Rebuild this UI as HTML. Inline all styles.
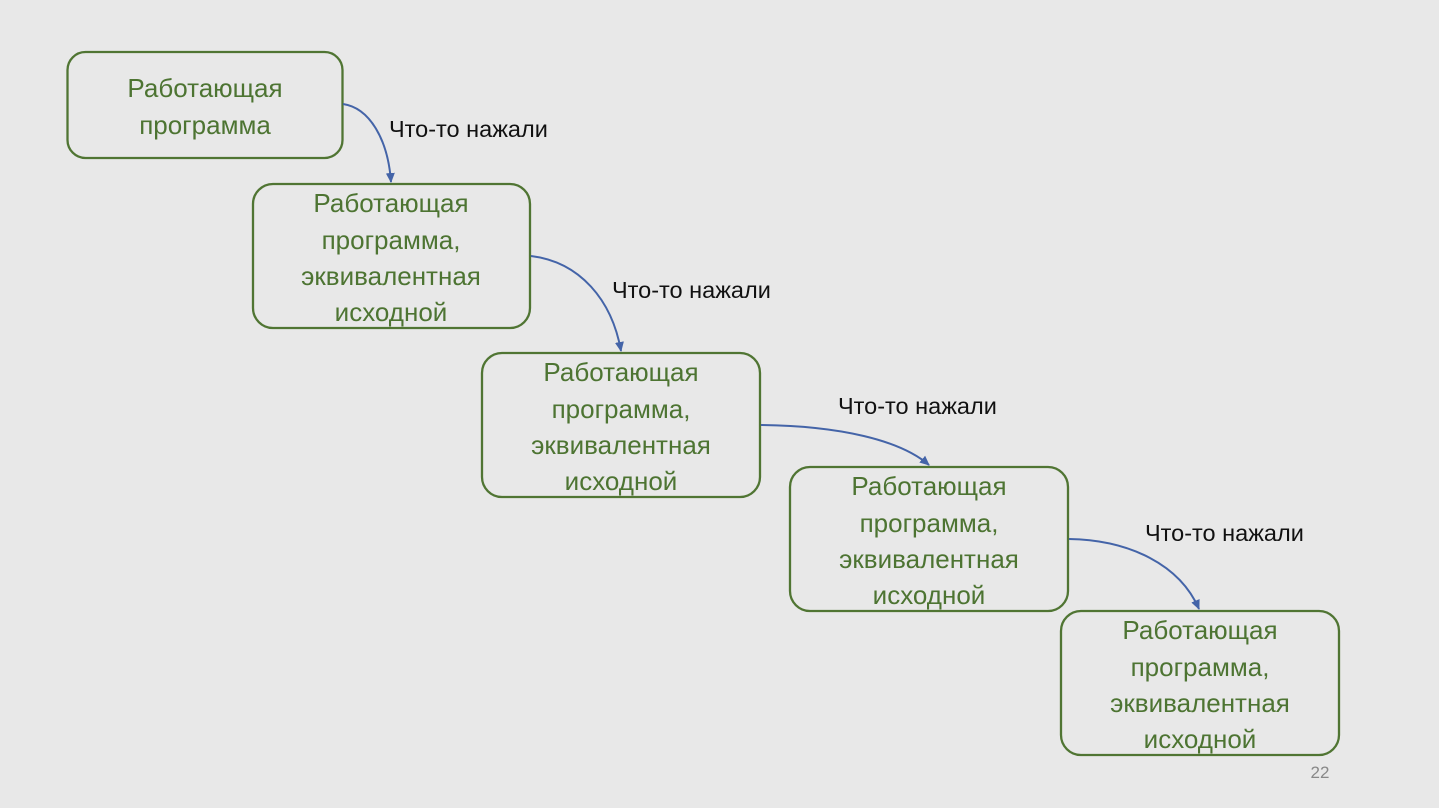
<!DOCTYPE html>
<html><head><meta charset="utf-8"><style>
html,body{margin:0;padding:0;background:#e8e8e8;}
svg{display:block}
</style></head><body>
<svg width="1439" height="808" viewBox="0 0 1439 808" xmlns="http://www.w3.org/2000/svg">
<defs><marker id="a" markerWidth="12" markerHeight="12" refX="9" refY="5.5" orient="auto" markerUnits="userSpaceOnUse"><path d="M0,1 L10,5.5 L0,10 Z" fill="#4464a8"/></marker></defs>
<rect width="1439" height="808" fill="#e8e8e8"/>
<g fill="none" stroke="#507533" stroke-width="2.3">
<rect x="67.5" y="52" width="275" height="106" rx="18"/>
<rect x="253" y="184" width="277" height="144" rx="20"/>
<rect x="482" y="353" width="278" height="144" rx="20"/>
<rect x="790" y="467" width="278" height="144" rx="20"/>
<rect x="1061" y="611" width="278" height="144" rx="20"/>
</g>
<g fill="none" stroke="#4464a8" stroke-width="2" marker-end="url(#a)">
<path d="M343,104 C370,108 388,140 391,182"/>
<path d="M531,256 C580,262 612,300 621,351"/>
<path d="M761,425 C840,426 900,440 929,465"/>
<path d="M1069,539 C1130,540 1180,565 1199,609"/>
</g>
<g font-family="Liberation Sans, DejaVu Sans, sans-serif" font-size="26" fill="#4d7432" text-anchor="middle">
<text x="205" y="97">Работающая</text><text x="205" y="134">программа</text>
<text x="391" y="212">Работающая</text><text x="391" y="249">программа,</text><text x="391" y="285">эквивалентная</text><text x="391" y="321">исходной</text>
<text x="621" y="381">Работающая</text><text x="621" y="418">программа,</text><text x="621" y="454">эквивалентная</text><text x="621" y="490">исходной</text>
<text x="929" y="495">Работающая</text><text x="929" y="532">программа,</text><text x="929" y="568">эквивалентная</text><text x="929" y="604">исходной</text>
<text x="1200" y="639">Работающая</text><text x="1200" y="676">программа,</text><text x="1200" y="712">эквивалентная</text><text x="1200" y="748">исходной</text>
</g>
<g font-family="Liberation Sans, DejaVu Sans, sans-serif" font-size="23.5" fill="#111">
<text x="389" y="137">Что-то нажали</text>
<text x="612" y="298">Что-то нажали</text>
<text x="838" y="414">Что-то нажали</text>
<text x="1145" y="541">Что-то нажали</text>
</g>
<text x="1320" y="778" font-family="Liberation Sans, sans-serif" font-size="17" fill="#888" text-anchor="middle">22</text>
</svg>
</body></html>
